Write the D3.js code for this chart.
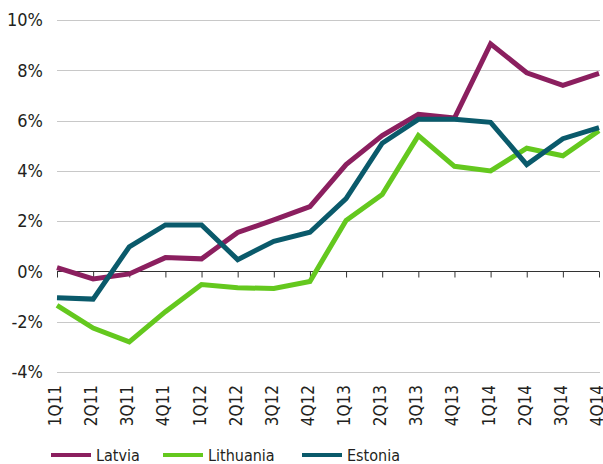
<!DOCTYPE html>
<html>
<head>
<meta charset="utf-8">
<script src="https://cdn.jsdelivr.net/npm/d3@7"></script>
<style>
  html, body { margin: 0; padding: 0; background: #fff; }
  svg text { font-family: "DejaVu Sans Condensed", "Liberation Sans Narrow", "Open Sans", sans-serif; fill: #231f20; }
</style>
</head>
<body>
<svg id="chart" width="603" height="464"></svg>
<script>
const categories = ["1Q11","2Q11","3Q11","4Q11","1Q12","2Q12","3Q12","4Q12","1Q13","2Q13","3Q13","4Q13","1Q14","2Q14","3Q14","4Q14"];
const latvia    = [0.15, -0.3, -0.1, 0.55, 0.5, 1.55, 2.05, 2.58, 4.25, 5.4, 6.25, 6.1, 9.05, 7.9, 7.4, 7.88];
const lithuania = [-1.35, -2.25, -2.8, -1.6, -0.52, -0.65, -0.68, -0.4, 2.03, 3.06, 5.4, 4.18, 4.0, 4.9, 4.6, 5.6];
const estonia   = [-1.05, -1.1, 0.98, 1.85, 1.85, 0.47, 1.2, 1.56, 2.9, 5.1, 6.05, 6.05, 5.93, 4.25, 5.28, 5.72];
const yTicks = [-4, -2, 0, 2, 4, 6, 8, 10];
const seriesNames = ["Latvia", "Lithuania", "Estonia"];
const seriesColors = ["#8b1f5f", "#64c81e", "#0a5a6b"];

const series = [latvia, lithuania, estonia].map((v, i) => ({name: seriesNames[i], color: seriesColors[i], values: v}));

const svg = d3.select("#chart");
const x = d3.scalePoint().domain(categories).range([57, 599]);
const y = d3.scaleLinear().domain([-4, 10]).range([372, 20]);

// gridlines
svg.append("g").selectAll("line").data(yTicks.filter(d => d !== 0)).join("line")
  .attr("x1", 57).attr("x2", 600)
  .attr("y1", d => Math.round(y(d)) + 0.5).attr("y2", d => Math.round(y(d)) + 0.5)
  .attr("stroke", "#c8c8c8").attr("stroke-width", 1.2);

// y labels
const yAxis = d3.axisLeft(y).tickValues(yTicks).tickFormat(d => d + "%").tickSize(0).tickPadding(0);
const ya = svg.append("g").attr("transform", "translate(43,0)").call(yAxis);
ya.select(".domain").remove();
ya.selectAll("text").style("font-size", "18px").attr("fill", "#231f20");

// zero axis with ticks
const xAxis = d3.axisBottom(x).tickSize(6).tickFormat("");
const xa = svg.append("g").attr("transform", `translate(0,${Math.round(y(0)) + 0.5})`).call(xAxis);
xa.select(".domain").attr("d", `M57,0H599`).attr("stroke", "#333");
xa.selectAll(".tick line").attr("stroke", "#333");

// x labels rotated
svg.append("g").selectAll("text").data(categories).join("text")
  .attr("transform", d => `translate(${x(d) + 4},385) rotate(-90)`)
  .attr("text-anchor", "end")
  .style("font-size", "17px")
  .text(d => d);

// lines
const line = d3.line().x((d, i) => x(categories[i])).y(d => y(d));
svg.append("g").selectAll("path").data(series).join("path")
  .attr("d", d => line(d.values))
  .attr("fill", "none")
  .attr("stroke", d => d.color)
  .attr("stroke-width", 5)
  .attr("stroke-linejoin", "miter");

// legend
const legendX = [51, 163, 302];
const lg = svg.append("g").selectAll("g").data(series).join("g")
  .attr("transform", (d, i) => `translate(${legendX[i]},455)`);
lg.append("line").attr("x1", 0).attr("x2", 40).attr("y1", 0).attr("y2", 0)
  .attr("stroke", d => d.color).attr("stroke-width", 4);
lg.append("text")
  .attr("x", 45).attr("y", 6)
  .style("font-size", "16px")
  .text(d => d.name);
</script>
</body>
</html>
